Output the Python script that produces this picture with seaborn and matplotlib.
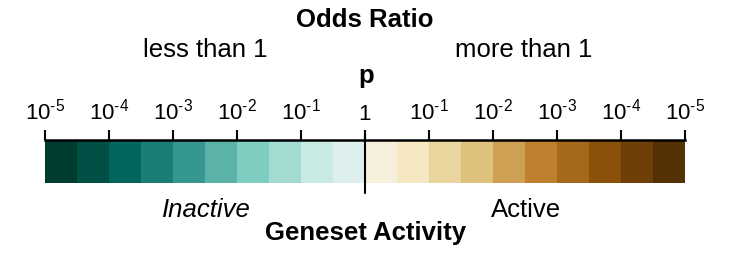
import numpy as np
import pandas as pd
import matplotlib
matplotlib.use("Agg")
import matplotlib.pyplot as plt
import seaborn as sns

# signed log10(p) threshold of each cell: negative = odds ratio < 1, positive = odds ratio > 1
cell_values = [-5.0, -4.5, -4.0, -3.5, -3.0, -2.5, -2.0, -1.5, -1.0, -0.5,
               0.5, 1.0, 1.5, 2.0, 2.5, 3.0, 3.5, 4.0, 4.5, 5.0]
tick_positions = [0, 2, 4, 6, 8, 10, 12, 14, 16, 18, 20]
exponents = [-5, -4, -3, -2, -1, 0, -1, -2, -3, -4, -5]

sns.set_style("white")
plt.rcParams['font.family'] = ['Liberation Sans', 'DejaVu Sans']
plt.rcParams['mathtext.fontset'] = 'custom'
plt.rcParams['mathtext.rm'] = 'Liberation Sans'
plt.rcParams['text.color'] = 'black'
plt.rcParams['xtick.color'] = 'black'

# hyphen (U+2010) instead of the long mathtext minus
tick_labels = ["1" if e == 0 else "$\\mathregular{10^{\u2010%d}}$" % abs(e) for e in exponents]

W, H = 741, 259
fig = plt.figure(figsize=(W / 100, H / 100), dpi=100)
ax = fig.add_axes([45 / W, 1 - 183 / H, 640 / W, 43 / H])

df = pd.DataFrame([cell_values])
sns.heatmap(df, ax=ax, cmap="BrBG_r", vmin=-5, vmax=5, cbar=False,
            xticklabels=False, yticklabels=False)

ax.xaxis.tick_top()
ax.set_xticks(tick_positions)
ax.set_xticklabels(tick_labels)
ax.set_yticks([])
ax.tick_params(axis='x', top=True, bottom=False, length=7, width=1.5,
               color='black', labelcolor='black', labelsize=16, pad=4)
ax.spines['top'].set_visible(True)
ax.spines['top'].set_color('black')
ax.spines['top'].set_linewidth(1.8)

# separator at odds ratio = 1
ax.axvline(10, ymin=-0.23, ymax=1.2, color='black', lw=1.5, clip_on=False)


def label(x, y, s, **kw):
    fig.text(x / W, 1 - y / H, s, ha='center', va='baseline', fontsize=18.5,
             color='black', **kw)


label(365, 27, "Odds Ratio", fontweight='bold')
label(205, 57, "less than 1")
label(524, 57, "more than 1")
label(366, 83, "p", fontweight='bold')
label(206, 217, "Inactive", fontstyle='italic')
label(526, 217, "Active")
label(366, 240, "Geneset Activity", fontweight='bold')

fig.savefig("out.png", dpi=100)
